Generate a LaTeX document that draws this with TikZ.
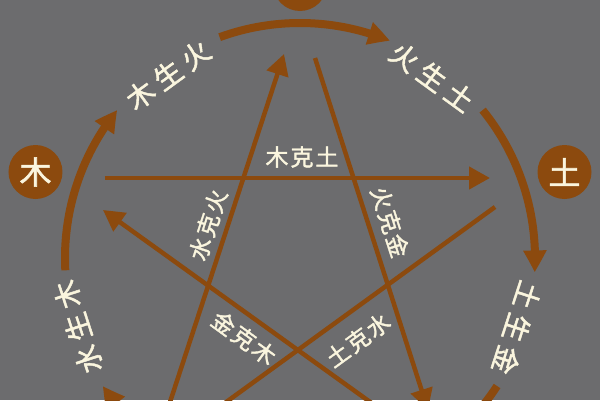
\documentclass[tikz,border=0pt]{standalone}
\usepackage{fontspec}
\newfontfamily\cjk[FakeBold=1.6]{Noto Sans CJK SC}
\usetikzlibrary{arrows.meta,bending}
\definecolor{bg}{RGB}{108,108,110}
\definecolor{brn}{RGB}{140,74,14}
\definecolor{txt}{RGB}{250,245,222}
\begin{document}
\begin{tikzpicture}[x=1pt,y=1pt,
  arcline/.style={draw=brn, line width=8pt, -{Triangle[length=22pt,width=22pt,bend]}},
  starline/.style={draw=brn, line width=4.5pt, -{Triangle[length=21pt,width=22pt]}},
  elem/.style={circle, fill=brn, minimum size=54pt, inner sep=0pt, text=txt, font=\cjk\fontsize{32}{32}\selectfont},
  outlbl/.style={text=txt, font=\cjk\fontsize{28}{28}\selectfont, inner sep=0pt},
  starlbl/.style={text=txt, font=\cjk\fontsize{23}{23}\selectfont, inner sep=0pt}]
\fill[bg] (-300,-142) rectangle (300,258);
\useasboundingbox (-300,-142) rectangle (300,258);

% element circles
\node[elem] (fire) at (0,274) {};
\node[elem] (wood) at (-264.5,86) {木};
\node[elem] (earth) at (264.5,86) {土};

% outer arcs (sheng cycle)
\coordinate (aW) at (183:235);
\coordinate (aF) at (110:235);
\coordinate (aE) at (39:235);
\coordinate (aM) at (327:235);
\coordinate (aR) at (255:235);
\draw[arcline] (aW) arc[start angle=183, end angle=141, radius=235];
\draw[arcline] (aF) arc[start angle=110, end angle=67.5, radius=235];
\draw[arcline] (aE) arc[start angle=39, end angle=-3.5, radius=235];
\draw[arcline] (aM) arc[start angle=327, end angle=285, radius=235];
\draw[arcline] (aR) arc[start angle=255, end angle=213, radius=235];

% outer labels
\node[outlbl, rotate=36] (l1) at (-132,183) {木\kern6pt生\kern6pt火};
\node[outlbl, rotate=-36] (l2) at (132,181) {火\kern6pt生\kern6pt土};
\node[outlbl, rotate=-108] (l3) at (217,-70) {土\kern6pt生\kern6pt金};
\node[outlbl, rotate=108] (l5) at (-222,-69) {水\kern6pt生\kern6pt木};

% star lines (ke cycle)
\coordinate (s1a) at (-195,80);  \coordinate (s1b) at (190,80);
\coordinate (s2a) at (-142.4,-182); \coordinate (s2b) at (-16,204);
\coordinate (s3a) at (15,200);   \coordinate (s3b) at (128,-152);
\coordinate (s4a) at (123,-182); \coordinate (s4b) at (-197,48);
\coordinate (s5a) at (195,51);   \coordinate (s5b) at (-133,-187);
\draw[starline] (s1a) -- (s1b);
\draw[starline] (s2a) -- (s2b);
\draw[starline] (s3a) -- (s3b);
\draw[starline] (s4a) -- (s4b);
\draw[starline] (s5a) -- (s5b);

% star labels
\node[starlbl] (k1) at (2,101) {木\kern2pt克\kern2pt土};
\node[starlbl, rotate=72] (k2) at (-92,33) {水\kern2pt克\kern2pt火};
\node[starlbl, rotate=-72] (k3) at (90,36) {火\kern2pt克\kern2pt金};
\node[starlbl, rotate=-36] (k4) at (-56,-80) {金\kern2pt克\kern2pt木};
\node[starlbl, rotate=36] (k5) at (58,-82) {土\kern2pt克\kern2pt水};
\end{tikzpicture}
\end{document}
